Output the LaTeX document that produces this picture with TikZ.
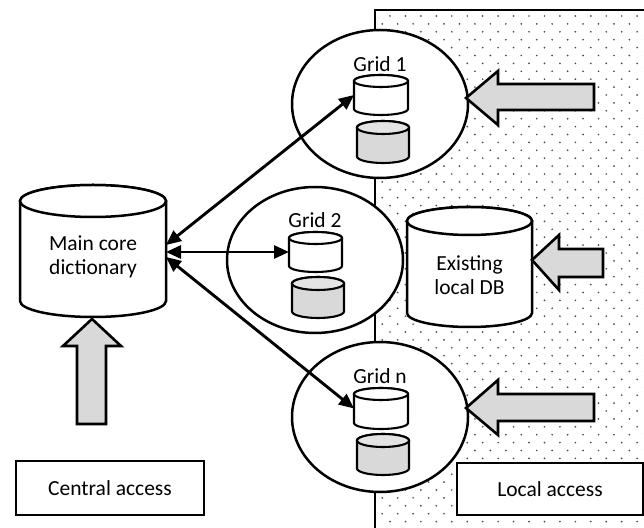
\documentclass[tikz,border=0pt]{standalone}
\usepackage{fontspec}
\setmainfont{Carlito}
\usetikzlibrary{arrows.meta,calc,shapes.geometric}
\definecolor{boxgray}{HTML}{D9D9D9}
\definecolor{capgray}{HTML}{E4E4E4}
\definecolor{dotc}{HTML}{4A4A4A}

\newcommand\drawcyl[5]{%
 \draw[line width=#5,fill=#3] let \p1=(#1.north west), \p2=(#1.south east), \n1={(\x2-\x1)/2} in
   (\x1,\y1-#2) -- (\x1,\y2+#2) arc[start angle=180,end angle=360,x radius=\n1,y radius=#2]
   -- (\x2,\y1-#2) arc[start angle=0,end angle=180,x radius=\n1,y radius=#2] -- cycle;
 \draw[line width=#5,fill=#4] let \p1=(#1.north west), \p2=(#1.south east), \n1={(\x2-\x1)/2} in
   (\x1+\n1,\y1-#2) ellipse[x radius=\n1,y radius=#2];
}

\tikzset{
  cylbox/.style={inner sep=0pt, outer sep=0pt},
  gridell/.style={ellipse, draw, line width=2.5pt, fill=white, inner sep=0pt,
                  minimum width=176pt, minimum height=148pt},
  lbl/.style={inner sep=0pt, font=\fontsize{21.5}{24.5}\selectfont},
  txtbox/.style={draw, line width=1.7pt, fill=white, inner sep=0pt,
                 font=\fontsize{21.5}{24.5}\selectfont},
  conn/.style={line width=2.9pt,
               {Triangle[length=15pt,width=13pt]}-{Triangle[length=15pt,width=13pt]}},
  blockarr/.style={draw, line width=2.6pt, fill=boxgray, line join=miter},
}

\begin{document}
\begin{tikzpicture}[x=1pt,y=1pt]
\useasboundingbox (0,0) rectangle (644,527);
\clip (0,0) rectangle (644,527);

% local region with dots
\fill[white] (375,-10) rectangle (700,517);
\begin{scope}
  \clip (376.5,-10) rectangle (700,515.5);
  \foreach \r in {0,...,66}{
    \foreach \c in {0,...,18}{
      \fill[dotc] ({374.5+15.45*\c+7.72*mod(\r,2)},{511-7.9*\r}) circle[radius=0.95];
    }}
\end{scope}
\draw[line width=2.5pt] (375,-10) -- (375,517) -- (700,517);

% main core dictionary
\node[cylbox, minimum width=146pt, minimum height=132pt] (main) at (93,276) {};
\drawcyl{main}{16pt}{white}{white}{2.5pt}
\node[lbl, align=center] (maintxt) at (93,270) {Main core\\dictionary};

% grid ellipses
\node[gridell] (g1) at (380,423) {};
\node[gridell, minimum height=146pt] (g2) at (315,267) {};
\node[gridell, minimum height=150pt] (gn) at (380,110) {};

\node[lbl, anchor=base] (g1lbl) at (380,455) {Grid 1};
\node[lbl, anchor=base] (g2lbl) at (315,299) {Grid 2};
\node[lbl, anchor=base] (gnlbl) at (380,143) {Grid n};

% small cylinders
\node[cylbox, minimum width=54pt, minimum height=40pt] (g1t) at (381,432) {};
\drawcyl{g1t}{6pt}{white}{white}{2.1pt}
\node[cylbox, minimum width=52pt, minimum height=42pt] (g1b) at (383,385) {};
\drawcyl{g1b}{6.5pt}{boxgray}{capgray}{2.1pt}

\node[cylbox, minimum width=53pt, minimum height=40pt] (g2t) at (315.5,275) {};
\drawcyl{g2t}{6pt}{white}{white}{2.1pt}
\node[cylbox, minimum width=52pt, minimum height=41pt] (g2b) at (318,229.5) {};
\drawcyl{g2b}{6.5pt}{boxgray}{capgray}{2.1pt}

\node[cylbox, minimum width=54pt, minimum height=41pt] (gnt) at (381,118.5) {};
\drawcyl{gnt}{6pt}{white}{white}{2.1pt}
\node[cylbox, minimum width=52pt, minimum height=41pt] (gnb) at (383,72.5) {};
\drawcyl{gnb}{6.5pt}{boxgray}{capgray}{2.1pt}

% existing local DB
\node[cylbox, minimum width=125pt, minimum height=120pt] (db) at (469.5,260) {};
\drawcyl{db}{14pt}{white}{white}{2.5pt}
\node[lbl, align=center] (dbtxt) at (469.5,252) {Existing\\local DB};

% block arrows
\coordinate (a1tip) at (466,429);
\draw[blockarr] (a1tip) -- ++(32,27) -- ++(0,-13) -- ++(96,0) -- ++(0,-26) -- ++(-96,0) -- ++(0,-15) -- cycle;
\coordinate (a2tip) at (532,267);
\draw[blockarr] (a2tip) -- ++(27,25) -- ++(0,-14) -- ++(44,0) -- ++(0,-28) -- ++(-44,0) -- ++(0,-13) -- cycle;
\coordinate (a3tip) at (466,119);
\draw[blockarr] (a3tip) -- ++(32,28) -- ++(0,-14) -- ++(96,0) -- ++(0,-27) -- ++(-96,0) -- ++(0,-14) -- cycle;
\coordinate (a4tip) at (92,208);
\draw[blockarr] (a4tip) -- ++(29,-27) -- ++(-15,0) -- ++(0,-78) -- ++(-29,0) -- ++(0,78) -- ++(-14,0) -- cycle;

% text boxes
\node[txtbox, minimum width=188pt, minimum height=54pt] (central) at (110,39) {Central access};
\node[txtbox, minimum width=186pt, minimum height=52pt] (local) at (550,38) {Local access};

% connectors
\draw[conn] ([yshift=6pt]main.east) -- (g1t.west);
\draw[conn] (g2t.west -| main.east) -- (g2t.west);
\draw[conn] ([yshift=-6pt]main.east) -- (gnt.west);
\end{tikzpicture}
\end{document}
